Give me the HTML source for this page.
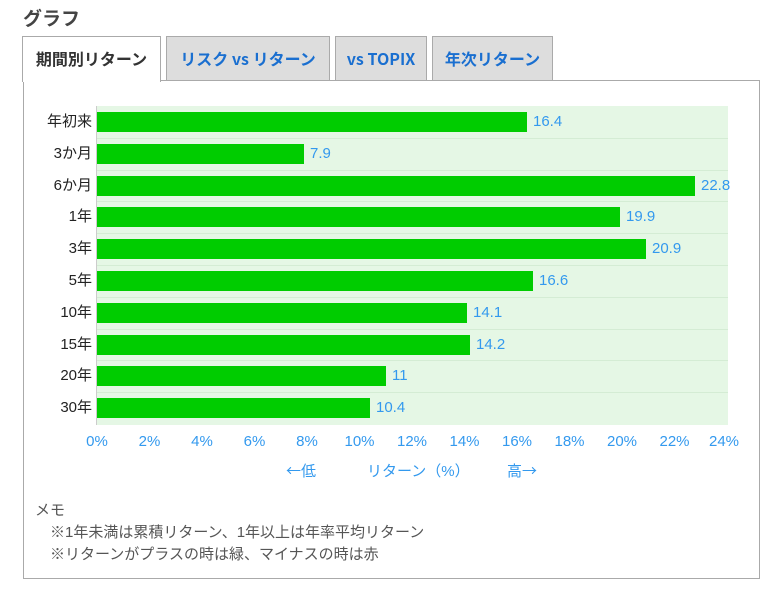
<!DOCTYPE html>
<html><head><meta charset="utf-8"><style>
*{margin:0;padding:0;box-sizing:border-box}
body{width:780px;height:601px;background:#fff;font-family:"Liberation Sans","Noto Sans CJK JP",sans-serif;position:relative;overflow:hidden}
.a{position:absolute;white-space:nowrap}
.tab{position:absolute;top:36px;height:45px;border:1px solid #aaa;background:#ddd;color:#1a6fd0;font-weight:bold;font-size:16px;text-align:center;line-height:42px;font-family:"Noto Sans CJK JP","Liberation Sans",sans-serif}
.bar{position:absolute;left:97px;height:20px;background:#00cc00}
.lab{position:absolute;right:688px;font-size:15px;color:#222;line-height:20px}
.val{position:absolute;font-size:15px;color:#3399ee;line-height:20px}
.tk{position:absolute;top:433px;font-size:15px;color:#3399ee;width:40px;margin-left:-20px;text-align:center}
.grid{position:absolute;left:97px;width:631px;height:1px;background:#d4ecd4}
</style></head><body>
<div class="a" style="left:23px;top:4px;font-size:19px;font-weight:bold;color:#444">グラフ</div>
<div class="a" style="left:23px;top:80px;width:737px;height:499px;border:1px solid #aaa"></div>
<div class="tab" style="left:22px;width:139px;background:#fff;color:#333;border-bottom:none;height:46px">期間別リターン</div>
<div class="tab" style="left:166px;width:164px">リスク vs リターン</div>
<div class="tab" style="left:335px;width:92px">vs TOPIX</div>
<div class="tab" style="left:432px;width:121px">年次リターン</div>
<div class="a" style="left:97px;top:106px;width:631px;height:319px;background:#e5f7e5"></div>
<div class="a" style="left:96px;top:106px;width:1px;height:319px;background:#ccc"></div>
<div class="grid" style="top:138px"></div><div class="grid" style="top:170px"></div><div class="grid" style="top:201px"></div><div class="grid" style="top:233px"></div><div class="grid" style="top:265px"></div><div class="grid" style="top:297px"></div><div class="grid" style="top:329px"></div><div class="grid" style="top:360px"></div><div class="grid" style="top:392px"></div>

<div class="bar" style="top:112px;width:430px"></div><div class="lab" style="top:112px">年初来</div><div class="val" style="top:112px;left:533px">16.4</div>
<div class="bar" style="top:144px;width:207px"></div><div class="lab" style="top:144px">3か月</div><div class="val" style="top:144px;left:310px">7.9</div>
<div class="bar" style="top:176px;width:598px"></div><div class="lab" style="top:176px">6か月</div><div class="val" style="top:176px;left:701px">22.8</div>
<div class="bar" style="top:207px;width:523px"></div><div class="lab" style="top:207px">1年</div><div class="val" style="top:207px;left:626px">19.9</div>
<div class="bar" style="top:239px;width:549px"></div><div class="lab" style="top:239px">3年</div><div class="val" style="top:239px;left:652px">20.9</div>
<div class="bar" style="top:271px;width:436px"></div><div class="lab" style="top:271px">5年</div><div class="val" style="top:271px;left:539px">16.6</div>
<div class="bar" style="top:303px;width:370px"></div><div class="lab" style="top:303px">10年</div><div class="val" style="top:303px;left:473px">14.1</div>
<div class="bar" style="top:335px;width:373px"></div><div class="lab" style="top:335px">15年</div><div class="val" style="top:335px;left:476px">14.2</div>
<div class="bar" style="top:366px;width:289px"></div><div class="lab" style="top:366px">20年</div><div class="val" style="top:366px;left:392px">11</div>
<div class="bar" style="top:398px;width:273px"></div><div class="lab" style="top:398px">30年</div><div class="val" style="top:398px;left:376px">10.4</div>

<div class="tk" style="left:97px">0%</div><div class="tk" style="left:149.5px">2%</div><div class="tk" style="left:202px">4%</div><div class="tk" style="left:254.5px">6%</div><div class="tk" style="left:307px">8%</div><div class="tk" style="left:359.5px">10%</div><div class="tk" style="left:412px">12%</div><div class="tk" style="left:464.5px">14%</div><div class="tk" style="left:517px">16%</div><div class="tk" style="left:569.5px">18%</div><div class="tk" style="left:622px">20%</div><div class="tk" style="left:674.5px">22%</div><div class="tk" style="left:724px">24%</div>
<div class="a" style="left:286px;top:460px;font-size:15px;color:#3399ee;font-family:'Noto Sans CJK JP',sans-serif">←低</div>
<div class="a" style="left:367px;top:460px;font-size:15px;color:#3399ee">リターン（%）</div>
<div class="a" style="left:507px;top:460px;font-size:15px;color:#3399ee;font-family:'Noto Sans CJK JP',sans-serif">高→</div>
<div class="a" style="left:35px;top:499px;font-size:15px;color:#555">メモ</div>
<div class="a" style="left:50px;top:521px;font-size:15px;color:#555">※1年未満は累積リターン、1年以上は年率平均リターン</div>
<div class="a" style="left:50px;top:543px;font-size:15px;color:#555">※リターンがプラスの時は緑、マイナスの時は赤</div>
</body></html>
